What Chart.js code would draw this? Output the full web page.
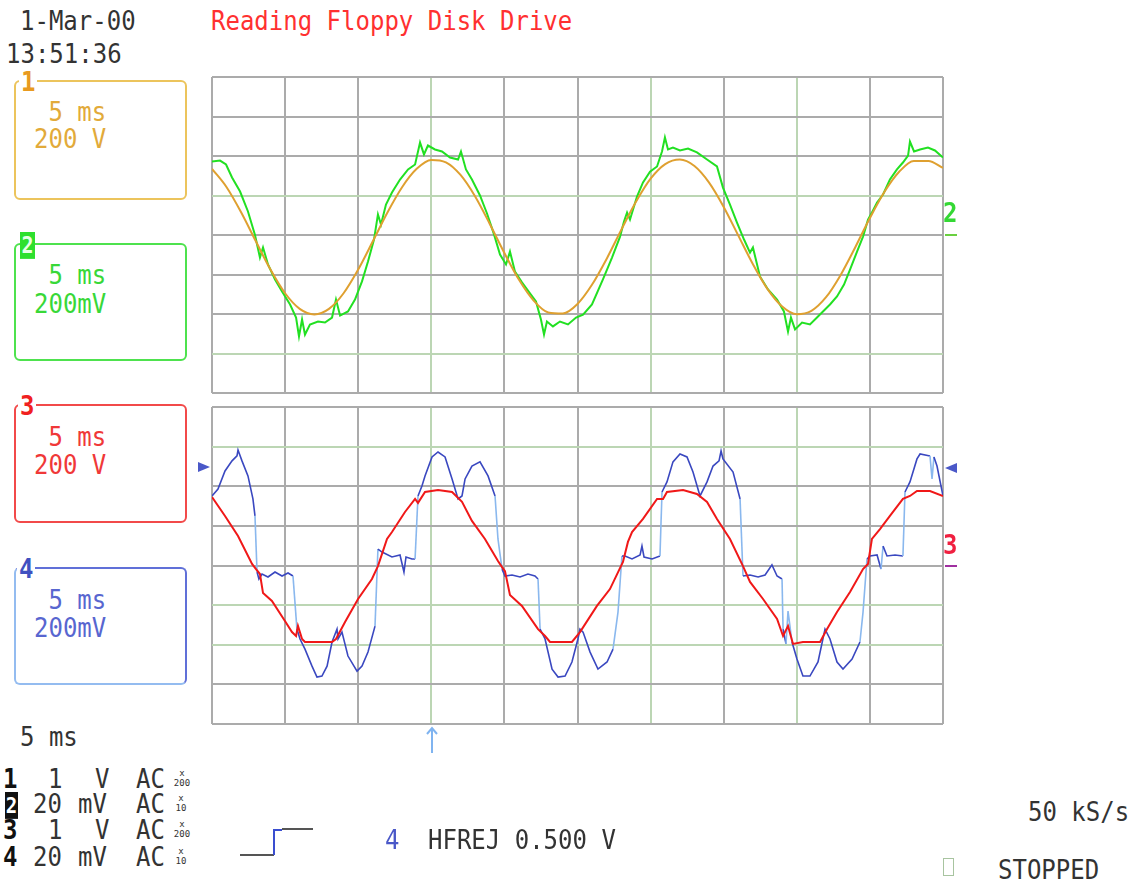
<!DOCTYPE html>
<html>
<head>
<meta charset="utf-8">
<script src="https://cdn.jsdelivr.net/npm/chart.js@4.4.1/dist/chart.umd.min.js"></script>
<style>
  body { margin: 0; background: #fff; width: 1135px; height: 882px; overflow: hidden; }
  #scope { position: relative; width: 1135px; height: 882px; }
  canvas { position: absolute; }
  .t { position: absolute; font-family: "DejaVu Sans Mono", monospace; font-size: 24px; line-height: 24px;
       white-space: pre; transform-origin: 0 0; transform: scaleY(1.12); color: #333; }
  .b { font-weight: bold; }
  .box { position: absolute; box-sizing: border-box; border: 2px solid; border-radius: 6px; left: 14px; width: 173px; }
  .tiny { position: absolute; font-family: "DejaVu Sans Mono", monospace; font-size: 9px; line-height: 10px;
          color: #333; text-align: center; width: 18px; }
</style>
</head>
<body>
<div id="scope">
  <div class="t" style="left:20px;top:8px">1-Mar-00</div>
  <div class="t" style="left:6px;top:41px">13:51:36</div>
  <div class="t" style="left:211px;top:8px;color:#ff3030">Reading Floppy Disk Drive</div>

  <div class="box" style="top:80px;height:120px;border-color:#ecc45c"></div>
  <div class="box" style="top:243px;height:118px;border-color:#4ee24e"></div>
  <div class="box" style="top:404px;height:119px;border-color:#f24a4a"></div>
  <div class="box" style="top:567px;height:118px;border-color:#6070d8 #6070d8 #94bcf0 #94bcf0"></div>

  <div class="t b" style="left:19px;top:69px;color:#e89a20;background:#fff;padding:0 2px">1</div>
  <div class="t b" style="left:20px;top:232px;width:15px;height:24px;background:#2ee02e;color:#e8ffe8;text-align:center;font-size:20px">2</div>
  <div class="t b" style="left:18px;top:393px;color:#f02020;background:#fff;padding:0 2px">3</div>
  <div class="t b" style="left:17px;top:556px;color:#4050c0;background:#fff;padding:0 2px">4</div>

  <div class="t" style="left:34px;top:99px;color:#e2aa3a"> 5 ms
200 V</div>
  <div class="t" style="left:34px;top:260px;color:#38d838;line-height:26px"> 5 ms
200mV</div>
  <div class="t" style="left:34px;top:424px;color:#f03838;line-height:25px"> 5 ms
200 V</div>
  <div class="t" style="left:34px;top:587px;color:#5866d0;line-height:25px"> 5 ms
200mV</div>

  <canvas id="topScope" width="743" height="328" style="left:206px;top:71px"></canvas>
  <canvas id="bottomScope" width="743" height="329" style="left:206px;top:401px"></canvas>

  <div class="t b" style="left:943px;top:200px;color:#34d834">2</div>
  <div style="position:absolute;left:945px;top:234px;width:12px;height:2px;background:#6ad040"></div>
  <div class="t b" style="left:943px;top:532px;color:#f02040">3</div>
  <div style="position:absolute;left:945px;top:565px;width:12px;height:2px;background:#a030a0"></div>
  <div style="position:absolute;left:198px;top:462px;width:0;height:0;border-left:12px solid #4a58c8;border-top:5px solid transparent;border-bottom:5px solid transparent"></div>
  <div style="position:absolute;left:945px;top:463px;width:0;height:0;border-right:12px solid #4a58c8;border-top:5px solid transparent;border-bottom:5px solid transparent"></div>

  <svg style="position:absolute;left:424px;top:726px" width="16" height="28">
    <path d="M8 2 V27 M3 8 L8 2 L13 8" stroke="#80b4f0" stroke-width="2" fill="none"/>
  </svg>

  <div class="t" style="left:20px;top:724px">5 ms</div>

  <div class="t b" style="left:3px;top:766px;color:#111">1</div>
  <div class="t" style="left:48px;top:766px">1</div>
  <div class="t" style="left:95px;top:766px">V</div>
  <div class="t" style="left:136px;top:766px">AC</div>
  <div class="tiny" style="left:173px;top:768px">x<br>200</div>

  <div class="t b" style="left:5px;top:792px;width:13px;height:24px;background:#111;color:#fff;text-align:center;font-size:19px">2</div>
  <div class="t" style="left:33px;top:791px">20</div>
  <div class="t" style="left:78px;top:791px">mV</div>
  <div class="t" style="left:136px;top:791px">AC</div>
  <div class="tiny" style="left:172px;top:793px">x<br>10</div>

  <div class="t b" style="left:3px;top:817px;color:#111">3</div>
  <div class="t" style="left:48px;top:817px">1</div>
  <div class="t" style="left:95px;top:817px">V</div>
  <div class="t" style="left:136px;top:817px">AC</div>
  <div class="tiny" style="left:173px;top:819px">x<br>200</div>

  <div class="t b" style="left:3px;top:844px;color:#111">4</div>
  <div class="t" style="left:33px;top:844px">20</div>
  <div class="t" style="left:78px;top:844px">mV</div>
  <div class="t" style="left:136px;top:844px">AC</div>
  <div class="tiny" style="left:172px;top:846px">x<br>10</div>

  <svg style="position:absolute;left:236px;top:824px" width="82" height="36">
    <path d="M4 31 H38" stroke="#555" stroke-width="2" fill="none"/>
    <path d="M38 31 V6 H46" stroke="#3a4ed0" stroke-width="2" fill="none"/>
    <path d="M46 5 H77" stroke="#555" stroke-width="2" fill="none"/>
  </svg>
  <div class="t" style="left:385px;top:827px;color:#4a58c8">4</div>
  <div class="t" style="left:428px;top:827px">HFREJ 0.500 V</div>

  <div class="t" style="left:1028px;top:799px">50 kS/s</div>
  <div style="position:absolute;left:943px;top:858px;width:9px;height:16px;border:1px solid #a8c4a0"></div>
  <div class="t" style="left:998px;top:857px">STOPPED</div>
</div>

<script>
// channel 1 (V) and channel 2 (mV), top screen
const ch1Time = [0,1,2,3,4,5,6,7,8,9,10,11,12,13,14,15,16,17,18,19,20,21,22,23,24,25,
  26,27,28,29,30,31,32,33,34,35,36,37,38,39,40,41,42,43,44,45,46,47,48,49,50];
const ch1 = [335,242,114,-32,-175,-295,-374,-402,-374,-295,-175,-32,114,242,335,380,368,304,195,56,
  -91,-227,-332,-392,-397,-349,-251,-120,27,168,285,359,382,349,265,142,-3,-148,-274,-362,
  -401,-384,-315,-202,-62,86,219,320,375,375,340];

const ch2Time = [0,0.55,0.96,1.37,1.92,2.46,2.94,3.28,3.49,3.83,4.31,4.79,5.34,5.75,5.95,6.16,6.36,6.7,7.25,7.73,
  8.21,8.48,8.76,9.3,9.78,10.26,10.67,11.08,11.35,11.56,11.9,12.31,12.86,13.41,13.89,14.23,14.5,14.77,15.25,15.73,
  16.28,16.83,17.03,17.37,17.78,18.33,18.81,19.29,19.7,20.11,20.38,20.72,21.2,21.75,22.16,22.5,22.71,22.91,23.32,23.8,
  24.35,24.9,25.38,25.99,26.74,27.36,27.91,28.18,28.39,28.59,29.07,29.48,29.96,30.44,30.78,30.98,31.19,31.53,32.01,32.56,
  33.17,33.86,34.54,34.95,35.43,35.91,36.39,36.8,37.0,37.48,38.03,38.65,39.12,39.4,39.6,39.88,40.36,40.9,41.38,41.79,
  42.27,42.75,43.23,43.64,44.12,44.53,44.87,45.14,45.49,45.9,46.37,46.85,47.26,47.61,47.74,48.02,48.43,48.97,49.45,50];
const ch2 = [372,377,357,291,220,119,0,-114,-63,-149,-225,-286,-352,-418,-514,-428,-504,-453,-438,-443,
  -418,-327,-408,-387,-327,-235,-134,-23,104,53,154,215,281,332,357,468,408,453,433,423,
  392,382,423,332,281,200,109,3,-99,-149,-84,-185,-240,-296,-337,-428,-504,-438,-463,-438,
  -453,-418,-403,-352,-225,-114,-8,68,114,78,195,266,321,347,423,494,433,443,428,438,
  418,382,347,240,154,63,-23,-89,-63,-210,-276,-327,-387,-489,-418,-478,-443,-453,-418,-387,
  -352,-311,-251,-175,-84,-8,78,114,165,205,281,332,367,402,473,423,433,443,428,392];

// channel 3 (V) and channel 4 (mV), bottom screen
const ch3Time = [0,0.89,1.78,2.74,3.01,3.28,3.49,4.1,4.99,5.47,5.75,5.88,6.16,6.36,7.25,8.21,8.48,9.1,9.99,10.94,
  11.35,11.97,12.31,13.2,13.89,14.09,14.57,15.46,16.42,17.1,17.78,18.67,19.56,19.84,20.04,20.38,21.2,22.3,22.78,23.12,
  23.8,24.62,25.17,26.33,27.22,28.11,28.45,28.73,29.48,30.44,30.85,31.12,32.22,33.17,33.86,34.54,35.43,36.32,36.8,37.69,
  38.65,39.06,39.4,39.74,40.42,41.59,42.07,42.75,43.64,44.53,44.87,45.14,45.69,46.37,47.26,47.74,48.22,49.11,50];
const ch3 = [346,250,149,8,-18,-43,-139,-179,-280,-336,-356,-305,-371,-386,-386,-386,-371,-285,-169,-68,
  -3,134,169,270,336,316,371,381,371,321,225,134,23,-8,-28,-149,-204,-321,-356,-386,
  -386,-386,-336,-204,-119,18,119,169,235,336,336,371,381,361,321,235,134,-3,-83,-169,
  -270,-356,-305,-396,-386,-386,-321,-235,-134,-18,8,134,184,250,336,351,376,376,351];

const ch4Time = [0,0.41,0.89,1.37,1.71,1.78,2.05,2.46,2.8,2.94,3.08,3.21,3.42,3.83,4.31,4.79,5.2,5.54,5.81,6.02,
  6.36,6.84,7.18,7.52,7.87,8.21,8.55,8.62,8.89,9.3,9.92,10.26,10.67,11.15,11.35,11.63,12.31,12.86,13.13,13.27,
  13.68,13.89,14.09,14.36,14.57,15.05,15.46,15.94,16.42,16.83,17.1,17.31,17.78,18.33,18.88,19.36,19.56,19.84,20.04,20.52,
  21.07,21.61,22.09,22.3,22.44,22.78,23.26,23.67,24.15,24.62,25.03,25.17,25.38,25.86,26.4,27.02,27.43,27.77,28.04,28.25,
  28.73,29.28,29.41,29.55,30.1,30.64,30.78,31.12,31.53,32.01,32.49,32.9,33.38,33.86,34.27,34.68,34.82,34.95,35.64,36.12,
  36.32,36.8,37.35,37.83,38.3,38.65,38.99,39.06,39.26,39.4,39.67,40.01,40.42,40.9,41.45,41.93,42.27,42.75,43.16,43.78,
  44.32,44.53,44.8,45.01,45.49,45.76,45.9,46.17,46.72,47.26,47.4,47.74,48.22,48.43,49.11,49.25,49.38,49.59,50];
const ch4 = [351,386,477,528,553,583,528,452,336,250,-33,-68,-43,-58,-33,-53,-38,-53,-321,-371,
  -422,-508,-563,-558,-508,-386,-321,-371,-336,-457,-533,-508,-437,-306,83,68,43,53,-33,43,
  33,33,351,401,452,548,573,548,437,336,351,437,502,523,452,351,134,-18,-53,-48,
  -58,-43,-53,-68,-321,-371,-523,-563,-558,-487,-371,-321,-336,-437,-523,-487,-422,-235,48,48,
  33,53,98,43,33,48,371,422,523,563,548,472,351,422,502,528,578,538,472,336,
  -53,-48,-58,-48,3,-53,-68,-321,-396,-230,-386,-472,-558,-558,-487,-321,-371,-487,-523,-472,
  -386,-235,33,48,53,-18,98,48,53,48,371,422,538,563,553,437,548,502,351];

const GRID = "#ababab";
const GRID_TINT = "#bcd6b4";

function pts(t, v) {
  const n = Math.min(t.length, v.length);
  const out = [];
  for (let i = 0; i < n; i++) out.push({ x: t[i], y: v[i] });
  return out;
}

function scope(id, datasets, tintX, tintY) {
  return new Chart(document.getElementById(id), {
    type: 'line',
    data: { datasets: datasets },
    options: {
      responsive: false,
      animation: false,
      devicePixelRatio: 1,
      layout: { padding: 6 },
      elements: { point: { radius: 0 } },
      plugins: { legend: { display: false }, tooltip: { enabled: false } },
      scales: {
        x: {
          type: 'linear', min: 0, max: 50,
          ticks: { stepSize: 5, display: false },
          grid: { drawTicks: false, lineWidth: 2, color: c => tintX.includes(c.index) ? GRID_TINT : GRID },
          border: { display: false },
          afterFit: s => { s.height = 0; }
        },
        y: {
          min: -800, max: 800,
          ticks: { stepSize: 200, display: false },
          grid: { drawTicks: false, lineWidth: 2, color: c => tintY.includes(c.index) ? GRID_TINT : GRID },
          border: { display: false },
          afterFit: s => { s.width = 0; }
        }
      }
    }
  });
}

scope("topScope", [
  { label: "1", data: pts(ch1Time, ch1), borderColor: "#dfa030", borderWidth: 2, cubicInterpolationMode: 'monotone', tension: 0.4 },
  { label: "2", data: pts(ch2Time, ch2), borderColor: "#22e022", borderWidth: 2 }
], [3, 6, 8], [1, 5]);

scope("bottomScope", [
  { label: "3", data: pts(ch3Time, ch3), borderColor: "#f01818", borderWidth: 2 },
  { label: "4", data: pts(ch4Time, ch4), borderColor: "#3a48c0", borderWidth: 1.6,
    segment: {
      borderColor: c => {
        const dx = Math.abs(c.p1.x - c.p0.x), dy = Math.abs(c.p1.y - c.p0.y);
        return (dy > 20 && dy > 6 * dx) ? "#8ab8ee" : undefined;
      }
    } }
], [3, 6, 8], [2, 3, 7]);
</script>
</body>
</html>
